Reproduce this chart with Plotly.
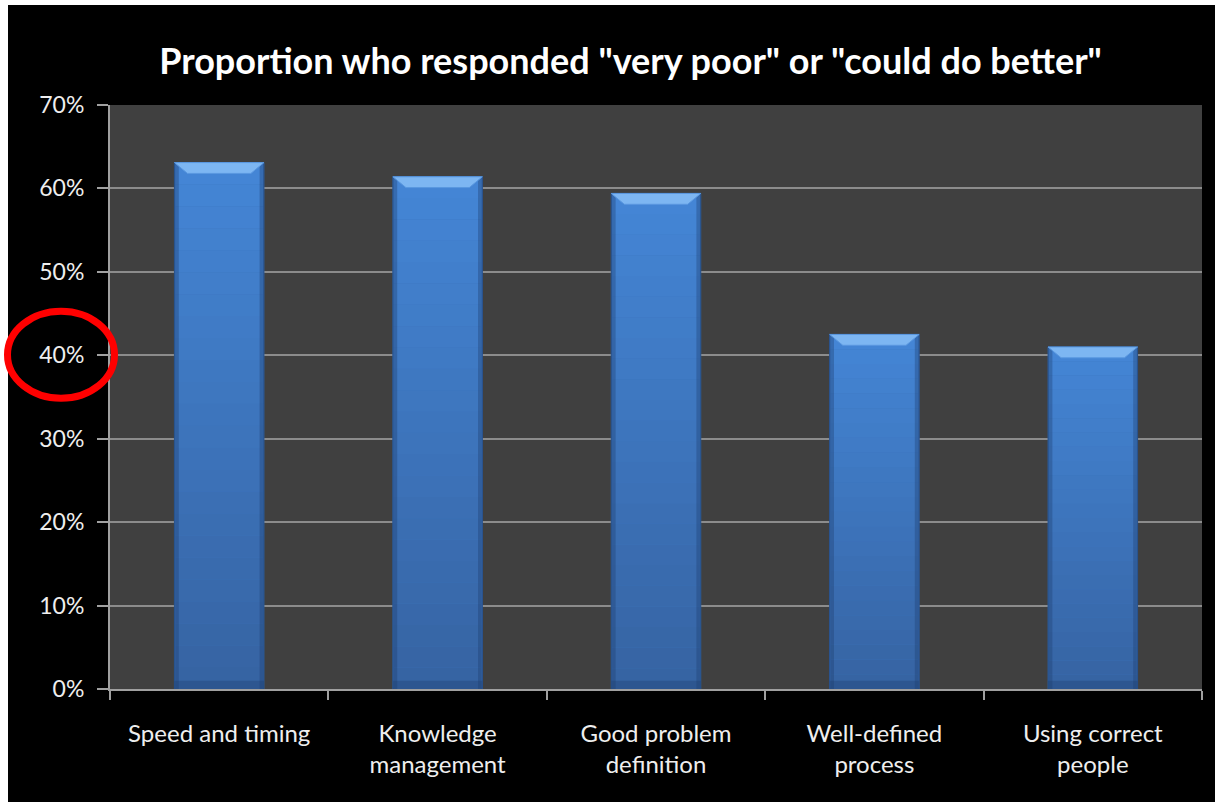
import plotly.graph_objects as go

categories = ["Speed and timing", "Knowledge<br>management", "Good problem<br>definition",
              "Well-defined<br>process", "Using correct<br>people"]
values = [0.631, 0.614, 0.594, 0.425, 0.410]
y_ticks = [0, 0.1, 0.2, 0.3, 0.4, 0.5, 0.6, 0.7]
title_text = 'Proportion who responded "very poor" or "could do better"'

positions = list(range(len(categories)))
BAR_W = 0.41
FONT = "Lato"

fig = go.Figure()
fig.add_trace(go.Bar(
    x=positions, y=values, width=BAR_W,
    marker=dict(color="#3d74bd", line=dict(color="#2c5a98", width=1)),
    hoverinfo="y", showlegend=False,
))

shapes = []
# white outer border strip + black background + gray plot background (paper coords)
shapes.append(dict(type="rect", xref="paper", yref="paper", x0=-0.0934, x1=1.05, y0=-0.4, y1=1.1712,
                   fillcolor="black", line=dict(width=0), layer="below"))
shapes.append(dict(type="rect", xref="paper", yref="paper", x0=0, x1=1, y0=0, y1=1,
                   fillcolor="#404040", line=dict(width=0), layer="below"))

# vertical gradient and bevelled cap on each bar, derived from the data values
def mix(c1, c2, t):
    a = [int(c1[i:i + 2], 16) for i in (1, 3, 5)]
    b = [int(c2[i:i + 2], 16) for i in (1, 3, 5)]
    return "#%02x%02x%02x" % tuple(round(a[k] + (b[k] - a[k]) * t) for k in range(3))

N = 24
for p, v in zip(positions, values):
    for k in range(N):
        t = (k + 0.5) / N
        shapes.append(dict(type="rect", xref="x", yref="y",
                           x0=p - BAR_W / 2 + 0.004, x1=p + BAR_W / 2 - 0.004,
                           y0=v * k / N, y1=v * (k + 1) / N,
                           fillcolor=mix("#3663a2", "#4486d6", t), line=dict(width=0), layer="above"))
    # darker side edges
    for side in (-1, 1):
        xa = p + side * BAR_W / 2
        xb = p + side * (BAR_W / 2 - 0.02)
        shapes.append(dict(type="rect", xref="x", yref="y", x0=min(xa, xb), x1=max(xa, xb),
                           y0=0, y1=v, fillcolor="rgba(30,60,110,0.35)", line=dict(width=0), layer="above"))
    # bottom shading
    shapes.append(dict(type="rect", xref="x", yref="y", x0=p - BAR_W / 2, x1=p + BAR_W / 2,
                       y0=0, y1=0.01, fillcolor="rgba(30,60,110,0.35)", line=dict(width=0), layer="above"))
    # top bevel
    dx, dy = 0.06, 0.013
    path = (f"M {p - BAR_W / 2} {v} L {p + BAR_W / 2} {v} "
            f"L {p + BAR_W / 2 - dx} {v - dy} L {p - BAR_W / 2 + dx} {v - dy} Z")
    shapes.append(dict(type="path", xref="x", yref="y", path=path,
                       fillcolor="#7db6f2", line=dict(color="#5a98e0", width=1), layer="above"))

# red highlight ellipse around the 40% tick label
shapes.append(dict(type="circle", xref="paper", yref="y", xsizemode="pixel", ysizemode="pixel",
                   xanchor=0, yanchor=0.4, x0=-102.5, x1=4.5, y0=-43, y1=44,
                   line=dict(color="#ff0000", width=7), fillcolor="rgba(0,0,0,0)", layer="above"))

fig.update_layout(
    width=1215, height=802,
    margin=dict(l=110, r=13, t=105, b=113),
    paper_bgcolor="white",
    plot_bgcolor="rgba(0,0,0,0)",
    shapes=shapes,
    title=dict(text=f"<b>{title_text}</b>", x=0.519, xanchor="center", y=0.923, yanchor="middle",
               font=dict(family=FONT, size=36, color="white")),
    font=dict(family=FONT, color="#eeeeee"),
    bargap=0.59,
)
fig.update_xaxes(
    range=[-0.5, len(categories) - 0.5],
    tickvals=positions, ticktext=categories,
    ticks="", showgrid=False, zeroline=False,
    showline=True, linecolor="#a0a0a0", linewidth=2,
    tickfont=dict(family=FONT, size=24, color="#eeeeee"),
    ticklabelstandoff=22,
    minor=dict(tickmode="array", tickvals=[p - 0.5 for p in positions] + [positions[-1] + 0.5],
               ticks="outside", ticklen=9, tickcolor="#a0a0a0", tickwidth=2, showgrid=False),
)
fig.update_yaxes(
    range=[0, 0.7], tickvals=y_ticks, tickformat=".0%",
    ticks="outside", ticklen=11, tickcolor="#a0a0a0", tickwidth=2,
    showgrid=True, gridcolor="#8c8c8c", gridwidth=2,
    zeroline=False, showline=True, linecolor="#a0a0a0", linewidth=2,
    tickfont=dict(family=FONT, size=23, color="#eeeeee"),
    ticklabelstandoff=8,
)

fig.write_html("out.html")
